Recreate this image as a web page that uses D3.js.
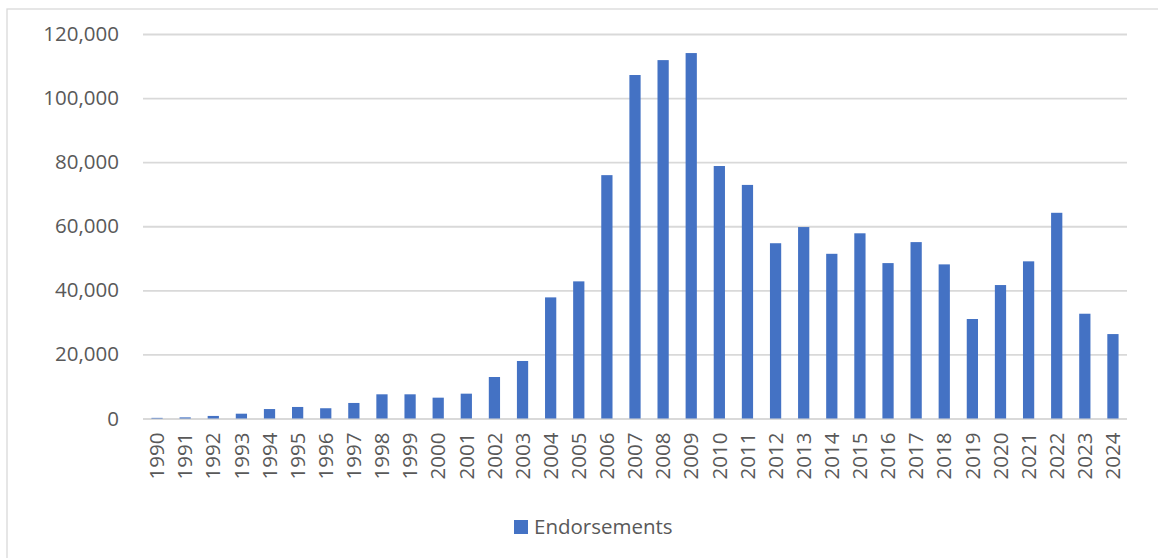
<!DOCTYPE html>
<html>
<head>
<meta charset="utf-8">
<script src="https://cdn.jsdelivr.net/npm/d3@7"></script>
<style>
  html, body { margin: 0; padding: 0; background: #ffffff; }
  svg { display: block; }
  text { font-family: "Open Sans", "Liberation Sans", Arial, sans-serif; fill: #595959; }
</style>
</head>
<body>
<svg id="chart" width="1158" height="558"></svg>
<script>
// Yearly endorsement counts
const years = [
  "1990","1991","1992","1993","1994","1995","1996","1997","1998","1999",
  "2000","2001","2002","2003","2004","2005","2006","2007","2008","2009",
  "2010","2011","2012","2013","2014","2015","2016","2017","2018","2019",
  "2020","2021","2022","2023","2024"
];
const endorsements = [
  200, 350, 800, 1500, 2950, 3600, 3200, 4850, 7550, 7550,
  6500, 7750, 12950, 17950, 37800, 42800, 75950, 107200, 111850, 114050,
  78800, 72900, 54700, 59750, 51400, 57800, 48500, 55050, 48100, 31050,
  41650, 49050, 64200, 32700, 26350
];
const yTicks = [0, 20000, 40000, 60000, 80000, 100000, 120000];
const seriesName = "Endorsements";

const W = 1158, H = 558;
const plot = { left: 143, right: 1127, top: 34, bottom: 418.5 };
const barColor = "#4472C4";
const gridColor = "#d9d9d9";
const fontSize = 20.5;

const svg = d3.select("#chart");

// Chart area outline (only left and top edges fall inside the frame)
svg.append("rect")
  .attr("x", 7).attr("y", 9)
  .attr("width", W + 20).attr("height", H + 20)
  .attr("fill", "#ffffff")
  .attr("stroke", gridColor)
  .attr("stroke-width", 1.3);

const x = d3.scaleBand()
  .domain(years)
  .range([plot.left, plot.right])
  .paddingInner(0.6)
  .paddingOuter(0.3);

const y = d3.scaleLinear()
  .domain([0, 120000])
  .range([plot.bottom, plot.top]);

// Value axis with horizontal gridlines
const yAxis = svg.append("g")
  .attr("transform", `translate(${plot.left},0)`)
  .call(d3.axisLeft(y)
    .tickValues(yTicks)
    .tickSize(-(plot.right - plot.left))
    .tickPadding(24)
    .tickFormat(d3.format(",")));
yAxis.select(".domain").remove();
yAxis.selectAll(".tick line")
  .attr("stroke", gridColor)
  .attr("stroke-width", 1.8);
yAxis.selectAll(".tick text")
  .style("font-size", fontSize + "px")
  .style("font-family", null)
  .attr("fill", "#595959");

// Bars
svg.append("g")
  .selectAll("rect")
  .data(years.map((yr, i) => ({ year: yr, value: endorsements[i] })))
  .join("rect")
  .attr("x", d => x(d.year))
  .attr("y", d => y(d.value))
  .attr("width", x.bandwidth())
  .attr("height", d => y(0) - y(d.value))
  .attr("fill", barColor);

// Category axis with rotated year labels
const xAxis = svg.append("g")
  .attr("transform", `translate(0,${plot.bottom})`)
  .call(d3.axisBottom(x).tickSize(0));
xAxis.select(".domain").remove();
xAxis.selectAll(".tick text")
  .style("font-size", fontSize + "px")
  .style("font-family", null)
  .attr("fill", "#595959")
  .attr("text-anchor", "end")
  .attr("transform", "rotate(-90)")
  .attr("x", -14)
  .attr("y", 0)
  .attr("dy", "0.35em");

// Legend
const legend = svg.append("g");
legend.append("rect")
  .attr("x", 514).attr("y", 520)
  .attr("width", 14).attr("height", 14)
  .attr("fill", barColor);
legend.append("text")
  .attr("x", 534).attr("y", 527)
  .attr("dy", "0.35em")
  .style("font-size", fontSize + "px")
  .text(seriesName);
</script>
</body>
</html>
